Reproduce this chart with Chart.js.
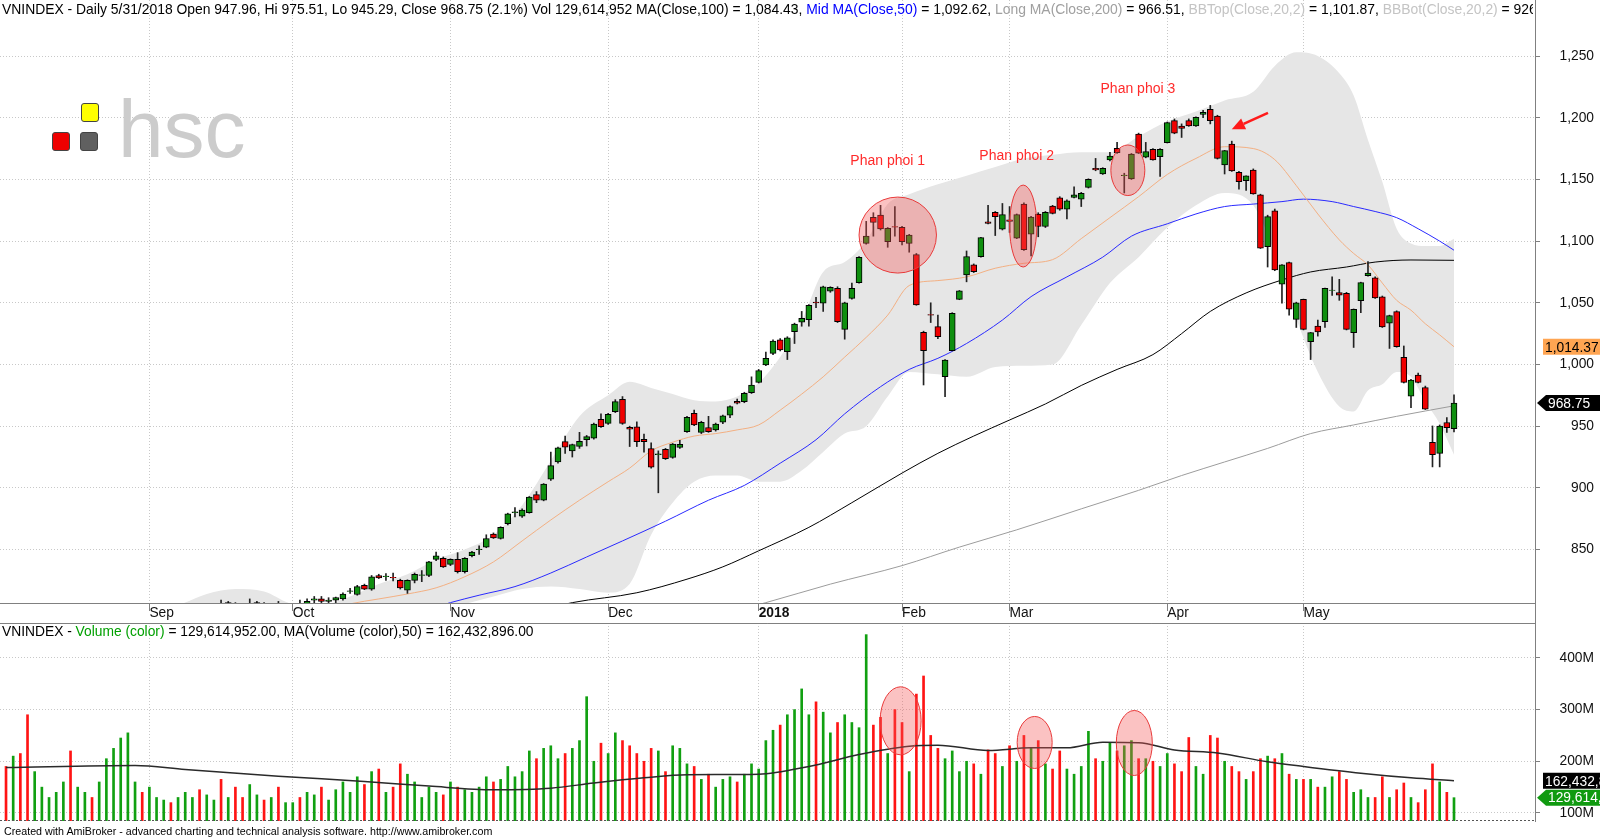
<!DOCTYPE html>
<html>
<head>
<meta charset="utf-8">
<script src="https://cdn.jsdelivr.net/npm/chart.js@4.4.1/dist/chart.umd.min.js"></script>
<style>
  body { margin: 0; background: #fff; width: 1600px; height: 838px; overflow: hidden; position: relative;
         font-family: "Liberation Sans", Arial, sans-serif; }
  canvas { position: absolute; left: 0; }
  #price { top: 0; }
  #vol { top: 623px; }
  .txt { position: absolute; white-space: nowrap; font-size: 13.8px; line-height: 16px; color: #000; }
  .sq { position: absolute; width: 16px; height: 17px; border: 1px solid #444; border-radius: 3px; }
  .pp { position: absolute; white-space: nowrap; font-size: 14px; color: #ff2a2a; transform: translate(-50%, -50%); }
</style>
</head>
<body>
<canvas id="price" width="1600" height="624"></canvas>
<canvas id="vol" width="1600" height="215"></canvas>

<div class="txt" style="left:2px;top:1px;width:1531px;overflow:hidden;font-size:13.9px">VNINDEX - Daily 5/31/2018 Open 947.96, Hi 975.51, Lo 945.29, Close 968.75 (2.1%) Vol 129,614,952 MA(Close,100) = 1,084.43, <span style="color:#0000ff">Mid MA(Close,50)</span> = 1,092.62, <span style="color:#a0a0a0">Long MA(Close,200)</span> = 966.51, <span style="color:#c4c4c4">BBTop(Close,20,2)</span> = 1,101.87, <span style="color:#c4c4c4">BBBot(Close,20,2)</span> = 926.87</div>
<div class="txt" style="left:2px;top:624px">VNINDEX - <span style="color:#00a000">Volume (color)</span> = 129,614,952.00, MA(Volume (color),50) = 162,432,896.00</div>
<div class="txt" style="left:4px;top:825px;font-size:10.7px;line-height:13px">Created with AmiBroker - advanced charting and technical analysis software. http://www.amibroker.com</div>

<div class="sq" style="left:81px;top:103px;background:#ffff00"></div>
<div class="sq" style="left:52px;top:132px;background:#ee0000"></div>
<div class="sq" style="left:80px;top:132px;background:#606060"></div>
<div style="position:absolute;left:118px;top:88px;font-size:82px;line-height:82px;color:#cccccc">hsc</div>

<script>
// daily bars, 4 Aug 2017 .. 31 May 2018, index = bar number
const monthIdx = [20, 40, 62, 84, 105, 125, 140, 162, 181];
const monthLbl = ['Sep', 'Oct', 'Nov', 'Dec', '2018', 'Feb', 'Mar', 'Apr', 'May'];
const priceTicks = [850, 900, 950, 1000, 1050, 1100, 1150, 1200, 1250];
const volTicks = [100, 200, 300, 400];

const opens = [
  781,776,781,777,771,774,776,777,779,783,
  777,780,783,781,784,787,789,792,795,797,
  793,796,797,800,797,800,801,804,801,803,
  806,803,806,802,799,805,806,801,805,802,
  804,806,804,809,810,808,809,810,816,813.6,
  821,818,829,828,827.5,825,817,825,829,829,
  842,843,838,842,832,845,850,852,862.6,859,
  871,880,877,880,894.5,890,907,921,937.5,930,
  933.6,939,940.2,955.6,952.3,961.8,971.8,949,949.5,939.4,
  931.8,927,931.2,924.7,932.8,945.6,960.5,945,948.9,947,
  953.2,959,970.2,969.9,977.2,985.5,999.6,1009,1019.9,1010.4,
  1026.6,1034.2,1036.3,1050.5,1049.6,1059.5,1061.7,1028.4,1053.6,1066.4,
  1098.2,1119.2,1121,1099.6,1111.8,1111.2,1098.2,1089,1026,1040.5,
  1030.7,990.1,1011.3,1052.8,1072.6,1080.7,1087.4,1115.7,1123.3,1109.6,
  1117.3,1102.3,1130,1105.6,1122,1111.8,1128.4,1135,1125.8,1135.5,
  1133.9,1143.6,1159,1154.5,1165.7,1175.2,1153,1150.4,1186.8,1168,
  1174.4,1168.5,1179.8,1197.6,1193.3,1197.6,1193.3,1202.7,1206.8,1201.4,
  1161.7,1178.7,1155.7,1149,1157.6,1137.4,1095.5,1124.6,1065,1082.6,
  1036.6,1052.8,1018.5,1031.2,1034.7,1060,1058.2,1057.7,1025.8,1051.8,
  1072,1070.2,1054.8,1033.4,1042.8,1005.9,974.4,991.5,981.3,937,
  928,953,947.96
];
const highs = [
  783,781,782,778,776,778,779,781,783,784,
  781,783,784,785,788,791,794,797,798,798,
  797,799,800,801,801,803,804,805,805,806,
  809,808,807,803,810,808,807,805,808,805,
  806,809,810,812,812,811,811.5,815,818.5,821,
  822,829,830,830.5,831,826,825.5,831,833,840.5,
  848,844,842.5,847.5,843.5,848.5,853,862,863.5,868.5,
  879.5,884,883,893,897,903.5,929,933,942,935.5,
  945,942.5,952.5,960,960.5,971.5,974,950,953.5,943.5,
  936.5,930,932,936,938.5,958,963,954,958,952.5,
  959,966.5,972,977.5,990,996,1010,1020,1021,1022.5,
  1033.5,1043,1048.5,1054.5,1063.5,1063,1063,1050.5,1066,1087.5,
  1116,1123,1129,1111,1128,1112,1105.5,1090,1027,1050,
  1040,1004,1042,1060,1092,1081.5,1103,1129,1124,1130.5,
  1128,1122,1131,1120,1123,1124,1129,1136,1133.5,1144,
  1139.5,1150.5,1167,1159.5,1172,1180,1155,1171,1187.5,1180,
  1175,1175,1196.5,1199,1195,1199,1200.8,1206,1210,1202,
  1173.5,1181,1156.5,1152.8,1158.5,1138,1121,1126,1081,1083,
  1050.5,1053,1026,1036,1062,1071,1069,1058.5,1045,1066.7,
  1083.4,1071,1055.5,1040,1043.5,1015,988,993,982.5,950.2,
  951,957,975.51
];
const lows = [
  776,774,776,770,770,773,775,776,778,776,
  776,779,780,780,783,786,788,791,793,792,
  792,795,796,796,796,799,800,800,800,802,
  803,802,801,798,798,803,801,800,801,801,
  802,803,803,806,806,806,807,809,814.5,813,
  817.5,817,826.5,825,824.5,818,814.5,823,824,828,
  841,835.5,837,831,831,844,846,851.5,859,858.5,
  870,876.5,876,879.5,888,889.5,906,920,928,925,
  932,934,939.5,949,951.5,961,951.5,933.5,933.5,929,
  916,896,923,924,932,945,950.5,944,945,946,
  952,957,968,969,976.5,985,999,1008,1011,1004,
  1017,1031,1031,1046,1043,1058.5,1034,1020.5,1053,1066,
  1097.5,1104,1109,1095,1104,1097,1091,1048,983.4,1034,
  1021,974,1011,1052.5,1067,1074.5,1087,1114,1104.5,1109,
  1107,1102,1092.5,1088,1103.5,1111,1122,1125,1118,1135,
  1128,1143,1157,1154,1165,1171,1139,1150,1171,1167.5,
  1165.5,1152.5,1179.5,1187,1184,1193,1193,1200,1195,1166.5,
  1154.4,1156.5,1142,1141,1138,1094,1079,1076,1049.6,1040,
  1030,1028,1004,1023,1030,1056,1052,1028,1013.8,1042,
  1071.5,1053.5,1030,1013,1014,985,965,985,963.5,917,
  917,945,945.29
];
const closes = [
  778,780,777,771,775,777,778,780,782,777,
  780,782,781,784,787,790,793,796,797,793,
  796,798,799,797,800,802,803,801,804,805,
  804,807,802,799,806,807,802,804,802,804,
  805,804,808,810,808,809,811,814,816.5,820,
  818,828,827,828.5,827,819,825,830,829.5,840,
  845,836,842,832,843,848,850.5,859,859.4,868,
  879,880.5,882,892.5,890,903,918,932.5,933,935,
  937.8,941.5,951.8,949.6,959.7,969.9,952.3,947.5,937.5,937.5,
  916.7,927.5,923.7,935.5,935.2,957.2,951,953.2,945.6,951.8,
  958.3,965.8,968.6,976.7,983.4,995,1005,1019,1011.8,1021.7,
  1032.8,1037.4,1048,1050,1063,1062.5,1034.7,1050,1061.7,1086.9,
  1104,1115.2,1109.8,1110.4,1111.2,1099.6,1104.9,1048.2,1011.3,1040,
  1022.6,1003.6,1041.5,1059.6,1087.5,1075.3,1102.8,1114.4,1119.8,1121.4,
  1116,1121.4,1093,1119.5,1111.8,1123.3,1122.5,1125.8,1132.7,1137.4,
  1138.7,1150,1157.6,1159,1169,1171.7,1153.6,1170.6,1171.2,1172.5,
  1165.8,1174.4,1196,1187.4,1191.4,1193.3,1200.3,1204.3,1197.6,1167.1,
  1173.3,1156.8,1148.2,1152.8,1138.2,1094.2,1119.8,1076.6,1080.7,1044.8,
  1050,1028.5,1025.8,1026.3,1061.7,1060.4,1056.1,1028.5,1044.7,1066.4,
  1074,1054,1030.5,1039.6,1014.5,985.5,987.4,985.5,963.7,927,
  950,948.8,968.75
];
// volume in millions of shares
const volumes = [
  190,210,215,290,180,150,130,140,160,220,
  150,140,130,160,205,225,245,255,160,140,
  150,130,125,120,130,140,130,145,135,125,
  165,130,150,130,155,135,125,130,150,120,
  120,130,140,135,150,125,145,160,140,170,
  155,180,185,140,150,195,175,160,130,150,
  140,135,160,150,145,140,150,170,160,165,
  190,170,180,220,205,225,230,205,215,225,
  240,325,200,235,215,255,240,230,215,200,
  225,220,180,230,225,195,190,165,175,150,
  165,170,160,175,195,185,240,260,270,290,
  300,340,290,315,295,255,275,290,275,265,
  445,270,285,215,300,275,180,330,365,250,
  225,205,220,180,200,195,175,222,215,190,
  230,200,250,225,240,195,185,220,185,175,
  190,258,205,200,235,220,230,240,205,205,
  200,190,215,195,180,246,190,175,250,245,
  200,190,180,165,180,205,210,205,215,175,
  165,165,165,150,150,170,180,165,140,145,
  130,130,170,130,145,158,130,120,145,195,
  160,140,129.614952
];

// indicator lines: [bar, value]
const ma20Pts = [[40,795],[44,800],[48,806],[52,810],[56,814],[60,819],[64,828],[68,840],[72,857],[76,874],
  [80,890],[84,905],[87,916],[90,930],[93,937],[96,942],[99,944],[102,947],[105,951],[108,963],[111,976],
  [114,990],[117,1006],[120,1022],[123,1040],[126,1064],[130,1068],[134,1071],[138,1078],[142,1082],[146,1085],
  [150,1102],[154,1119],[158,1136],[162,1154],[166,1167],[170,1176.5],[174,1175],[177,1166],[180,1145],[183,1122],
  [186,1101],[188,1090],[190,1080.7],[192,1066],[194,1052],[196,1044],[198,1033],[200,1024],[202,1014.37]];
const ma50Pts = [[58,800],[62,807],[66,813],[71,820],[76,831],[81,844],[86,857],[92,873],[98,890],[103,902],
  [108,920],[113,939],[117,960],[122,982],[126,996],[130,1005],[134,1017],[139,1036],[143,1055],[148,1071],
  [153,1087],[157,1104],[162,1114],[166,1122],[170,1128],[174,1130],[178,1132],[181,1134],[185,1132],[188,1128],
  [191,1124],[194,1119],[197,1110],[200,1100],[202,1092.62]];
const ma100Pts = [[74,800],[79,807],[88,815],[95,826],[100,836],[105,849],[112,868],[118,888],[125,912],[130,928],
  [135,942],[140,955],[145,968],[150,983],[155,996],[160,1008],[164,1025],[168,1043],[173,1058],[178,1068.5],
  [182,1075],[187,1079],[191,1083],[196,1084.7],[202,1084.43]];
const ma200Pts = [[100,798],[106,807],[115,822],[125,837],[133,852],[141,866],[150,883],[158,898],[164,910],
  [170,921],[176,932],[182,944],[188,951],[194,958],[202,966.51]];

const bbIdx = [20,24,28,32,36,40,44,48,52,56,60,64,68,72,76,80,84,87,90,93,96,99,102,105,108,111,114,117,120,
  123,126,130,134,138,142,146,150,154,158,162,166,170,174,177,180,183,186,188,190,192,194,196,198,200,202];
const bbTop = [800,805,814,818,816,806,805,812,822,830,842,850,862,886,922,958,975,986,981,976,971,970,974,985,
  1006,1035,1075,1083,1100,1130,1138,1146,1153,1160,1167,1170,1172,1172,1185,1197,1205,1214,1221,1242,1253,
  1250,1236,1218,1182,1148,1110,1098,1096,1096,1101.87];
const bbBot = [770,772,776,780,784,790,794,797,799,801,802,806,812,818,820,818,815,822,862,888,905,910,910,905,
  905,914,929,944,950,974,994,992,990,998,999,1000,1032,1066,1087,1111,1129,1139,1129,1090,1037,994,966,962,
  979,984,994,990,970,952,926.87];

const volMaPts = [[0,188],[18,192],[25,184],[38,171],[50,161],[59,152],[68,145],[76,148],[82,158],[89,168],
  [95,174],[105,175],[112,190],[119,213],[126,229],[130,231],[137,221],[143,226],[148,226],[153,237],[158,236],
  [163,222],[169,216],[176,199],[181,190],[189,177],[196,168],[202,162.432896]];

// marks drawn on the chart: [bar, value, x radius in bars, y radius in value]
const priceRings = [[124.4, 1104.9, 5.4, 30.8], [141.9, 1112.2, 1.9, 33.2], [156.5, 1157.4, 2.37, 20.5]];
const volRings = [[124.8, 278.3, 2.86, 65.8], [143.5, 236.4, 2.44, 50.3], [157.4, 235.4, 2.51, 62.9]];
const arrowFrom = [176.05, 1204], arrowTo = [171, 1190.6];
const notes = [[123, 1165.7, 'Phan phoi 1'], [141, 1169.8, 'Phan phoi 2'], [157.9, 1224.1, 'Phan phoi 3']];

Chart.defaults.font.family = '"Liberation Sans", Arial, sans-serif';
Chart.defaults.font.size = 13.8;
Chart.defaults.color = '#111';

const xMin = -0.84, xMax = 213.3;
const GREEN = '#0f8f0f', RED = '#f00000';
const isUp = closes.map((c, i) => c >= opens[i]);
const pts = a => a.map(([x, y]) => ({x, y}));
const line = (d, color, order, w) => ({
  type: 'line', data: pts(d), borderColor: color, borderWidth: w || 1, pointRadius: 0,
  cubicInterpolationMode: 'monotone', fill: false, order
});

function xAxis(showLabels, height) {
  return {
    type: 'linear', min: xMin, max: xMax, offset: false,
    afterBuildTicks: s => { s.ticks = monthIdx.map(v => ({value: v})); },
    afterFit: s => { s.height = height; s.paddingLeft = 0; s.paddingRight = 0; },
    grid: {color: '#c8c8c8', offset: false, drawTicks: showLabels, tickLength: 8, tickColor: '#808080', tickBorderDash: []},
    border: {display: showLabels, color: '#808080', dash: [1, 2]},
    ticks: {
      display: showLabels, align: 'start', padding: -6, maxRotation: 0, autoSkip: false, color: '#111',
      font: c => ({size: 13.8, weight: monthLbl[c.index] === '2018' ? 'bold' : 'normal'}),
      callback: (v, i) => monthLbl[i]
    }
  };
}
function yAxis(min, max, ticks, fmt) {
  return {
    position: 'right', min, max,
    afterBuildTicks: s => { s.ticks = ticks.map(v => ({value: v})); },
    afterFit: s => { s.width = 59; s.paddingTop = 0; s.paddingBottom = 0; },
    grid: {color: '#c8c8c8', tickLength: 5, tickColor: '#808080', tickBorderDash: []},
    border: {color: '#808080', dash: [1, 2]},
    ticks: {crossAlign: 'far', padding: 4, color: '#111', font: {size: 13.8}, callback: fmt}
  };
}

function rings(chart, list) {
  const {ctx, chartArea: a} = chart, {x, y} = chart.scales;
  const ppb = x.getPixelForValue(1) - x.getPixelForValue(0);
  ctx.save();
  ctx.beginPath(); ctx.rect(a.left, a.top, a.width, a.height); ctx.clip();
  list.forEach(([i, v, rb, rv]) => {
    const cx = x.getPixelForValue(i), cy = y.getPixelForValue(v);
    const ry = Math.abs(y.getPixelForValue(v + rv) - cy);
    ctx.beginPath();
    ctx.ellipse(cx, cy, rb * ppb, ry, 0, 0, Math.PI * 2);
    ctx.fillStyle = 'rgba(245,85,85,0.36)';
    ctx.fill();
    ctx.strokeStyle = '#e83a3a';
    ctx.lineWidth = 1;
    ctx.stroke();
  });
  ctx.restore();
}

function tag(ctx, xL, yc, text, bg, fg, arrow) {
  const h = 16, x0 = arrow ? xL + 9 : xL;
  ctx.save();
  ctx.beginPath();
  if (arrow) {
    ctx.moveTo(xL, yc); ctx.lineTo(x0, yc - h / 2); ctx.lineTo(1600, yc - h / 2);
    ctx.lineTo(1600, yc + h / 2); ctx.lineTo(x0, yc + h / 2); ctx.closePath();
  } else {
    ctx.rect(xL, yc - h / 2, 1600 - xL, h);
  }
  ctx.fillStyle = bg; ctx.fill();
  ctx.font = '13.8px "Liberation Sans", Arial, sans-serif';
  ctx.fillStyle = fg; ctx.textBaseline = 'middle'; ctx.textAlign = 'left';
  ctx.fillText(text, x0 + 2, yc + 1);
  ctx.restore();
}

const priceDeco = {
  id: 'priceDeco',
  afterDatasetsDraw(chart) {
    rings(chart, priceRings);
    const {ctx} = chart, {x, y} = chart.scales;
    const x1 = x.getPixelForValue(arrowFrom[0]), y1 = y.getPixelForValue(arrowFrom[1]);
    const x2 = x.getPixelForValue(arrowTo[0]), y2 = y.getPixelForValue(arrowTo[1]);
    const ang = Math.atan2(y2 - y1, x2 - x1), hl = 13, hw = 6;
    const bx = x2 - hl * Math.cos(ang), by = y2 - hl * Math.sin(ang);
    ctx.save();
    ctx.strokeStyle = '#ff1a1a'; ctx.fillStyle = '#ff1a1a'; ctx.lineWidth = 2.5;
    ctx.beginPath(); ctx.moveTo(x1, y1); ctx.lineTo(bx, by); ctx.stroke();
    ctx.beginPath();
    ctx.moveTo(x2, y2);
    ctx.lineTo(bx + hw * Math.sin(ang), by - hw * Math.cos(ang));
    ctx.lineTo(bx - hw * Math.sin(ang), by + hw * Math.cos(ang));
    ctx.closePath(); ctx.fill();
    ctx.restore();
  },
  afterDraw(chart) {
    const {ctx, chartArea: a} = chart, y = chart.scales.y;
    ctx.save();
    ctx.strokeStyle = '#808080'; ctx.lineWidth = 1;
    ctx.beginPath();
    ctx.moveTo(0, a.bottom + 20.5); ctx.lineTo(a.right, a.bottom + 20.5);
    ctx.moveTo(a.right + 0.5, a.bottom); ctx.lineTo(a.right + 0.5, a.bottom + 21);
    ctx.stroke();
    ctx.restore();
    const ma20Last = ma20Pts[ma20Pts.length - 1][1];
    const cLast = closes[closes.length - 1];
    tag(ctx, a.right + 8, y.getPixelForValue(ma20Last),
        ma20Last.toLocaleString('en-US', {minimumFractionDigits: 2}), '#ffa552', '#000', false);
    tag(ctx, a.right + 2, y.getPixelForValue(cLast),
        cLast.toLocaleString('en-US', {minimumFractionDigits: 2}), '#000', '#fff', true);
  }
};

const volDeco = {
  id: 'volDeco',
  afterDatasetsDraw(chart) { rings(chart, volRings); },
  afterDraw(chart) {
    const {ctx, chartArea: a} = chart, y = chart.scales.y;
    ctx.save();
    ctx.strokeStyle = '#808080'; ctx.lineWidth = 1;
    ctx.beginPath(); ctx.moveTo(0, a.top + 0.5); ctx.lineTo(a.right, a.top + 0.5); ctx.stroke();
    ctx.strokeStyle = '#555'; ctx.setLineDash([2, 2]);
    ctx.beginPath(); ctx.moveTo(0, a.bottom - 0.5); ctx.lineTo(a.right, a.bottom - 0.5); ctx.stroke();
    ctx.restore();
    const maLast = volMaPts[volMaPts.length - 1][1];
    const vLast = volumes[volumes.length - 1];
    tag(ctx, a.right + 8, y.getPixelForValue(maLast), Math.round(maLast * 1e6).toLocaleString('en-US'), '#000', '#fff', false);
    tag(ctx, a.right + 2, y.getPixelForValue(vLast), Math.round(vLast * 1e6).toLocaleString('en-US'), '#109a10', '#fff', true);
  }
};

const priceChart = new Chart(document.getElementById('price'), {
  type: 'bar',
  data: {
    datasets: [
      {
        data: closes.map((c, i) => ({x: i, y: [opens[i], c]})),
        backgroundColor: isUp.map(u => u ? GREEN : RED),
        borderColor: '#000', borderWidth: 1, borderSkipped: false,
        barThickness: 6, grouped: false, order: 1
      },
      {
        data: closes.map((c, i) => ({x: i, y: [lows[i], highs[i]]})),
        backgroundColor: '#222', barThickness: 1, grouped: false, order: 2
      },
      line(ma20Pts, '#f3b083', 3),
      line(ma50Pts, '#2a2aff', 4),
      line(ma100Pts, '#000000', 5),
      line(ma200Pts, '#9c9c9c', 6),
      {
        type: 'line', data: bbIdx.map((x, k) => ({x, y: bbTop[k]})), borderWidth: 0, pointRadius: 0,
        cubicInterpolationMode: 'monotone', fill: '+1', backgroundColor: '#e6e6e6', order: 20
      },
      {
        type: 'line', data: bbIdx.map((x, k) => ({x, y: bbBot[k]})), borderWidth: 0, pointRadius: 0,
        cubicInterpolationMode: 'monotone', fill: false, order: 21
      }
    ]
  },
  options: {
    responsive: false, animation: false,
    layout: {padding: {left: 0, top: 0, bottom: 0, right: 6}, autoPadding: false},
    plugins: {legend: {display: false}, tooltip: {enabled: false}},
    scales: {
      x: xAxis(true, 21),
      y: yAxis(806.7, 1295.4, priceTicks, v => v.toLocaleString('en-US'))
    }
  },
  plugins: [priceDeco]
});

new Chart(document.getElementById('vol'), {
  type: 'bar',
  data: {
    datasets: [
      {
        data: volumes.map((v, i) => ({x: i, y: v})),
        backgroundColor: isUp.map(u => u ? '#11a011' : '#ff1414'),
        barThickness: 2, grouped: false, order: 2
      },
      line(volMaPts, '#2a2a2a', 1, 1.5)
    ]
  },
  options: {
    responsive: false, animation: false,
    layout: {padding: {left: 0, top: 0, bottom: 0, right: 6}, autoPadding: false},
    plugins: {legend: {display: false}, tooltip: {enabled: false}},
    scales: {
      x: xAxis(false, 17),
      y: yAxis(84.5, 467.5, volTicks, v => v + 'M')
    }
  },
  plugins: [volDeco]
});

// annotation labels placed through the price scales
notes.forEach(([i, v, t]) => {
  const d = document.createElement('div');
  d.className = 'pp';
  d.textContent = t;
  d.style.left = priceChart.scales.x.getPixelForValue(i) + 'px';
  d.style.top = priceChart.scales.y.getPixelForValue(v) + 'px';
  document.body.appendChild(d);
});
</script>
</body>
</html>
